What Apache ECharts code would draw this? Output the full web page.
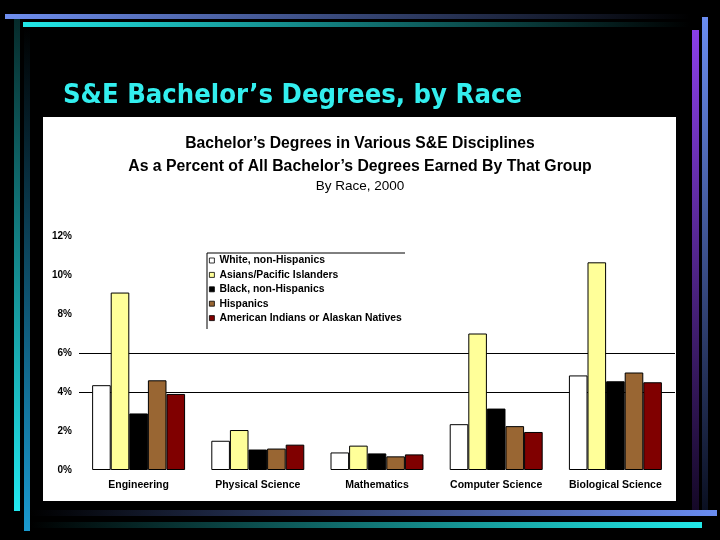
<!DOCTYPE html>
<html>
<head>
<meta charset="utf-8">
<title>S&E Bachelor's Degrees, by Race</title>
<script src="https://cdn.jsdelivr.net/npm/echarts@6/dist/echarts.min.js"></script>
<style>
    html, body { margin: 0; padding: 0; background: #000; }
    #chart { width: 720px; height: 540px; }
</style>
</head>
<body>
<div id="chart"></div>
<script>
// percent of all bachelor's degrees earned by each group, 2000
let categories = ['Engineering', 'Physical Science', 'Mathematics', 'Computer Science', 'Biological Science'];
let groupNames = ['White, non-Hispanics', 'Asians/Pacific Islanders', 'Black, non-Hispanics', 'Hispanics', 'American Indians or Alaskan Natives'];
let whiteVals = [4.35, 1.5, 0.9, 2.35, 4.85];
let asianVals = [9.1, 2.05, 1.25, 7.0, 10.65];
let blackVals = [2.9, 1.05, 0.85, 3.15, 4.55];
let hispanicVals = [4.6, 1.1, 0.7, 2.25, 5.0];
let nativeVals = [3.9, 1.3, 0.8, 1.95, 4.5];
let yTicks = [0, 2, 4, 6, 8, 10, 12];

let SlideChart = (function () {
    let chart = echarts.init(document.getElementById('chart'));
    let font = 'Liberation Sans, Arial, sans-serif';
    let colors = ['#ffffff', '#ffff99', '#000000', '#996633', '#800000'];

    // horizontal / vertical gradient bars of the slide template
    let hbar = function (x, y, w, h, from, to) {
        return {
            type: 'rect', shape: {x: x, y: y, width: w, height: h}, silent: true, z: 0,
            style: {fill: {type: 'linear', x: 0, y: 0, x2: 1, y2: 0, colorStops: [{offset: 0, color: from}, {offset: 1, color: to}]}}
        };
    };
    let vbar = function (x, y, w, h, from, to) {
        return {
            type: 'rect', shape: {x: x, y: y, width: w, height: h}, silent: true, z: 0,
            style: {fill: {type: 'linear', x: 0, y: 0, x2: 0, y2: 1, colorStops: [{offset: 0, color: from}, {offset: 1, color: to}]}}
        };
    };

    let _init = function () {
        let allVals = [whiteVals, asianVals, blackVals, hispanicVals, nativeVals];
        let series = groupNames.map(function (name, i) {
            return {
                name: name,
                type: 'bar',
                data: allVals[i],
                barGap: '0%',
                barCategoryGap: '22%',
                itemStyle: {color: colors[i], borderColor: '#000', borderWidth: 1},
                emphasis: {disabled: true}
            };
        });

        // only the 4% and 6% grid lines show in the original
        let splitColors = yTicks.map(function (v) {
            return (v === 4 || v === 6) ? '#000' : 'rgba(0,0,0,0)';
        });

        let option = {
            backgroundColor: '#000',
            animation: false,
            title: [
                {
                    text: 'S&E Bachelor’s Degrees, by Race',
                    left: 58, top: 77,
                    textStyle: {color: '#33eeee', fontFamily: 'DejaVu Sans Condensed, DejaVu Sans', fontWeight: 'bold', fontSize: 27.2}
                },
                {
                    text: 'Bachelor’s Degrees in Various S&E Disciplines',
                    left: 'center', top: 131,
                    textStyle: {color: '#000', fontFamily: font, fontWeight: 'bold', fontSize: 15.7}
                },
                {
                    text: 'As a Percent of All Bachelor’s Degrees Earned By That Group',
                    left: 'center', top: 154,
                    textStyle: {color: '#000', fontFamily: font, fontWeight: 'bold', fontSize: 15.8}
                },
                {
                    text: 'By Race, 2000',
                    left: 'center', top: 174,
                    textStyle: {color: '#000', fontFamily: font, fontWeight: 'normal', fontSize: 13.5}
                }
            ],
            legend: {
                data: groupNames,
                orient: 'vertical',
                left: 209, top: 255,
                padding: 0,
                itemWidth: 5, itemHeight: 5,
                itemGap: 3.4,
                icon: 'rect',
                selectedMode: false,
                itemStyle: {borderWidth: 0.8},
                textStyle: {color: '#000', fontFamily: font, fontWeight: 'bold', fontSize: 10.4, lineHeight: 11}
            },
            grid: {left: 79, right: 45, top: 236, bottom: 70},
            xAxis: {
                type: 'category',
                data: categories,
                axisLine: {show: false},
                axisTick: {show: false},
                axisLabel: {color: '#000', fontFamily: font, fontWeight: 'bold', fontSize: 10.5, margin: 10, interval: 0, hideOverlap: false}
            },
            yAxis: {
                type: 'value',
                min: 0, max: 12, interval: 2,
                axisLine: {show: false},
                axisTick: {show: false},
                axisLabel: {color: '#000', fontFamily: font, fontWeight: 'bold', fontSize: 10, margin: 7, formatter: '{value}%'},
                splitLine: {show: true, lineStyle: {color: splitColors, width: 1}}
            },
            graphic: [
                // white panel behind the chart
                {type: 'rect', shape: {x: 43, y: 117, width: 633, height: 384}, style: {fill: '#fff'}, silent: true, z: -10},
                hbar(5, 14, 685, 5, '#6f8ff0', '#000000'),
                hbar(23, 22, 667, 5, '#22e8e8', '#000000'),
                vbar(14, 19, 6, 492, '#062a2a', '#22e8f0'),
                vbar(24, 27, 6, 504, '#000000', '#1a9ad0'),
                vbar(692, 30, 7, 482, '#8a3fe8', '#140826'),
                vbar(702, 17, 6, 495, '#6a8cf0', '#0a0f20'),
                hbar(30, 510, 687, 6, '#000000', '#6a8cf0'),
                hbar(30, 522, 672, 6, '#000000', '#22e8e8'),
                // legend frame: only top and left edges are drawn
                {type: 'polyline', shape: {points: [[207, 329], [207, 253], [405, 253]]}, style: {stroke: '#000', lineWidth: 1, fill: null}, silent: true, z: 5}
            ],
            series: series
        };
        chart.setOption(option);
    };

    return {
        init: _init
    };
})();
SlideChart.init();
</script>
</body>
</html>
